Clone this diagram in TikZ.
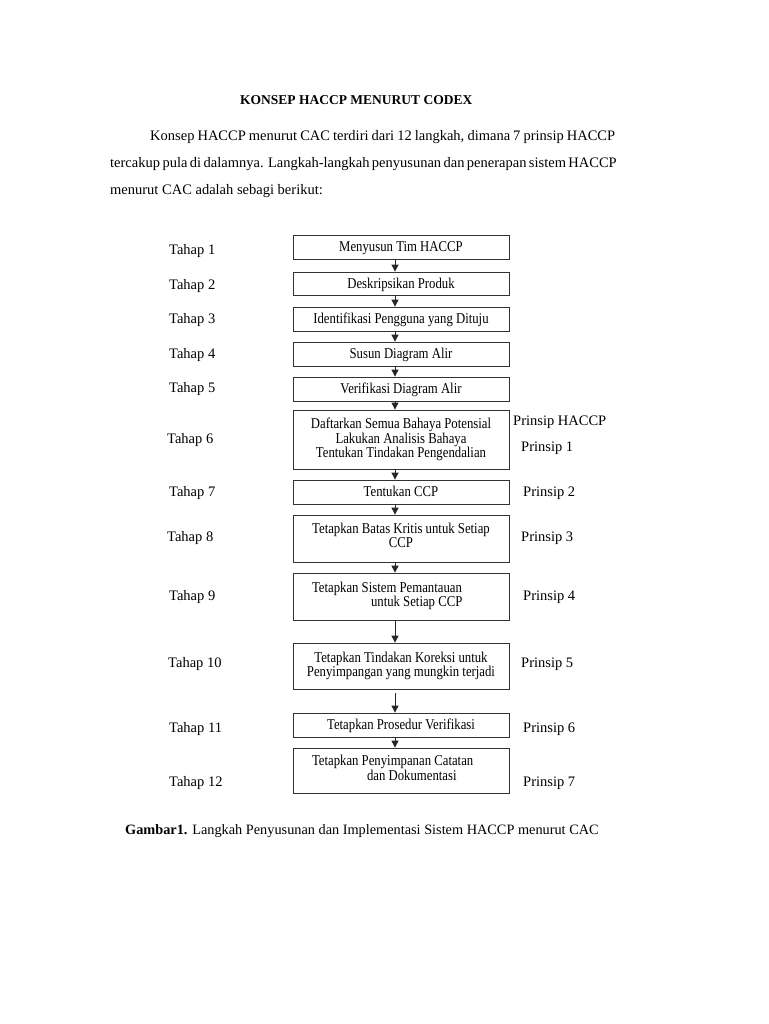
\documentclass[tikz,border=0pt]{standalone}
\usepackage{fontspec}
\setmainfont{Liberation Serif}
\newfontfamily\boxfont[FakeStretch=0.85]{Liberation Serif}
\usetikzlibrary{arrows.meta}
\begin{document}
\begin{tikzpicture}[x=1pt,y=-1pt,
  stepbox/.style={draw=black!80, line width=0.8pt, minimum width=216pt, inner sep=0pt,
    font=\boxfont\fontsize{15}{14.5}\selectfont, align=center},
  oneline/.style={text height=11.5pt, text depth=2pt},
  leftbox/.style={text width=178pt, align=flush left},
  lbl/.style={anchor=base west, inner sep=0pt, font=\fontsize{14.5}{17}\selectfont},
  arr/.style={-{Triangle[length=7pt,width=7pt]}, line width=0.9pt, black!85}]
\useasboundingbox[fill=white] (0,0) rectangle (768,1024);

% heading and paragraph
\node[lbl, font=\bfseries\fontsize{13.5}{16}\selectfont] (title) at (240,105) {KONSEP HACCP MENURUT CODEX};
\node[lbl] (p1) at (150,140.5) {\makebox[465pt][s]{Konsep HACCP menurut CAC terdiri dari 12 langkah, dimana 7 prinsip HACCP}};
\node[lbl] (p2) at (110,167.5) {\makebox[505pt][s]{tercakup pula di dalamnya. Langkah-langkah penyusunan dan penerapan sistem HACCP}};
\node[lbl] (p3) at (110,194.5) {menurut CAC adalah sebagi berikut:};

% boxes
\node[stepbox, oneline, minimum height=24pt] (b1) at (401,247) {Menyusun Tim HACCP};
\node[stepbox, oneline, minimum height=23pt] (b2) at (401,283.5) {Deskripsikan Produk};
\node[stepbox, oneline, minimum height=24pt] (b3) at (401,319) {Identifikasi Pengguna yang Dituju};
\node[stepbox, oneline, minimum height=24pt] (b4) at (401,354) {Susun Diagram Alir};
\node[stepbox, oneline, minimum height=24pt] (b5) at (401,389) {Verifikasi Diagram Alir};
\node[stepbox, minimum height=59pt] (b6) at (401,439.5) {Daftarkan Semua Bahaya Potensial\\Lakukan Analisis Bahaya\\Tentukan Tindakan Pengendalian};
\node[stepbox, oneline, minimum height=24pt] (b7) at (401,492) {Tentukan CCP};
\node[stepbox, minimum height=47pt] (b8) at (401,538.5) {Tetapkan Batas Kritis untuk Setiap\\CCP\rule[-6pt]{0pt}{6pt}};
\node[stepbox, leftbox, minimum height=47pt] (b9) at (401,596.5) {Tetapkan Sistem Pemantauan\\\hspace*{59pt}untuk Setiap CCP\rule[-4pt]{0pt}{4pt}};
\node[stepbox, minimum height=46pt] (b10) at (401,666) {Tetapkan Tindakan Koreksi untuk\\Penyimpangan yang mungkin terjadi};
\node[stepbox, oneline, minimum height=24pt] (b11) at (401,725) {Tetapkan Prosedur Verifikasi};
\node[stepbox, leftbox, minimum height=45pt] (b12) at (401,770.5) {Tetapkan Penyimpanan Catatan\\\hspace*{55pt}dan Dokumentasi\rule[-5pt]{0pt}{5pt}};

% arrows
\coordinate (ax) at (395,0);
\foreach \a/\b in {b1/b2,b2/b3,b3/b4,b4/b5,b5/b6,b6/b7,b7/b8,b8/b9,b9/b10,b11/b12}
  \draw[arr] (\a.south -| ax) -- (\b.north -| ax);
\draw[arr, shorten <=4pt] (b10.south -| ax) -- (b11.north -| ax);

% Tahap labels
\node[lbl] (t1) at (169,254) {Tahap 1};
\node[lbl] (t2) at (169,289) {Tahap 2};
\node[lbl] (t3) at (169,323) {Tahap 3};
\node[lbl] (t4) at (169,358) {Tahap 4};
\node[lbl] (t5) at (169,392) {Tahap 5};
\node[lbl] (t6) at (167,443) {Tahap 6};
\node[lbl] (t7) at (169,496) {Tahap 7};
\node[lbl] (t8) at (167,541) {Tahap 8};
\node[lbl] (t9) at (169,600) {Tahap 9};
\node[lbl] (t10) at (168,667) {Tahap 10};
\node[lbl] (t11) at (169,732) {Tahap 11};
\node[lbl] (t12) at (169,786) {Tahap 12};

% Prinsip labels
\node[lbl] (ph) at (513,425) {Prinsip HACCP};
\node[lbl] (r1) at (521,451) {Prinsip 1};
\node[lbl] (r2) at (523,496) {Prinsip 2};
\node[lbl] (r3) at (521,541) {Prinsip 3};
\node[lbl] (r4) at (523,600) {Prinsip 4};
\node[lbl] (r5) at (521,667) {Prinsip 5};
\node[lbl] (r6) at (523,732) {Prinsip 6};
\node[lbl] (r7) at (523,786) {Prinsip 7};

% caption
\node[lbl, font=\fontsize{14.3}{17}\selectfont] (cap) at (125,834) {\textbf{Gambar1.} Langkah Penyusunan dan Implementasi Sistem HACCP menurut CAC};
\end{tikzpicture}
\end{document}
